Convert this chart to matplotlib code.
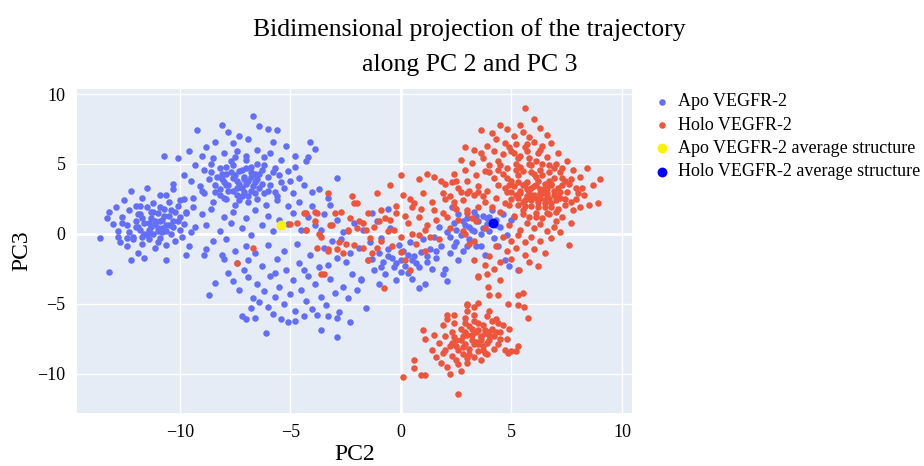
import matplotlib
matplotlib.use('Agg')
import matplotlib.pyplot as plt

plt.rcParams['font.family'] = ['Liberation Serif', 'DejaVu Serif']
plt.rcParams['axes.unicode_minus'] = True

# Apo VEGFR-2 points (PC2, PC3)
apo_pc2 = [
    # left cluster
    -13.6, -13.2, -13.3, -13.2, -13.0, -12.9, -12.8, -12.7, -12.6, -12.5, -12.4, -12.4, -12.3, -12.2, -12.1,
    -12.0, -12.0, -11.9, -11.8, -11.8, -11.7, -11.7, -11.6, -11.5, -11.5, -11.4, -11.4, -11.3, -11.3, -11.2,
    -11.1, -11.1, -11.0, -11.0, -10.9, -10.9, -10.8, -10.8, -10.7, -10.6, -10.6, -10.5, -10.5, -10.4, -10.3,
    -10.3, -10.2, -10.2, -10.1, -10.0, -10.0, -9.9, -9.8, -9.8, -9.7, -9.6, -9.5, -9.4, -9.3, -12.2,
    -11.6, -10.6, -9.7, -8.9, -8.1, -12.8, -11.9, -10.9, -11.2, -12.3,
    # upper cluster
    -6.7, -8.1, -9.2, -6.4, -6.0, -5.6, -7.8, -7.3, -6.9, -7.6, -8.4, -8.8, -5.8, -5.2, -4.1,
    -3.9, -9.6, -10.7, -10.1, -9.0, -8.5, -8.0, -7.4, -7.0, -6.5, -6.2, -5.9, -5.4, -4.8, -4.3,
    -9.3, -8.9, -8.6, -8.2, -7.9, -7.6, -7.3, -7.1, -6.8, -6.6, -6.3, -6.0, -5.7, -5.5, -5.1,
    -4.6, -9.8, -10.3, -9.5, -9.1, -8.7, -8.4, -8.1, -7.8, -7.6, -7.4, -7.2, -7.0, -6.8, -6.6,
    -6.4, -6.2, -5.9, -5.7, -5.3, -4.9, -4.4, -3.7, -2.9, -10.6, -10.0, -9.4, -8.9, -8.5, -8.2,
    -7.9, -7.5, -7.2, -6.9, -6.5, -6.1, -5.6, -5.1, -4.6, -4.0, -3.3, -9.7, -9.0, -8.6, -8.0,
    -7.6, -7.0, -6.6, -6.0, -5.5, -4.9, -4.2, -3.5, -8.8, -8.2, -7.7, -7.2, -6.8, -6.3, -5.8,
    -5.1, -4.5, -3.9, -7.9, -8.5, -7.0, -4.2, -4.8, -5.0, -4.0, -3.2,
    # lower cluster
    -6.1, -5.1, -4.8, -7.2, -7.0, -6.6, -3.6, -2.9, -2.3, -2.9, -8.7, -8.4, -7.4, -7.8, -7.6,
    -7.3, -7.1, -6.9, -6.7, -6.5, -6.3, -6.2, -6.0, -5.9, -5.7, -5.6, -5.5, -5.3, -5.2, -5.0,
    -4.9, -4.8, -4.6, -4.5, -4.3, -4.2, -4.0, -3.9, -3.7, -3.6, -3.4, -3.2, -3.0, -2.8, -2.6,
    -2.4, -2.2, -6.8, -6.4, -5.8, -5.4, -4.4, -3.8, -3.3, -6.6, -6.0, -5.3, -4.7, -4.1, -3.5,
    -2.9, -2.7, -6.9, -5.7, -4.4, -3.3, -2.5, -8.0, -8.8, -7.5, -2.0, -1.8, -1.6,
    # middle band
    -1.9, -1.7, -1.5, -1.4, -1.2, -1.1, -1.0, -0.9, -0.8, -0.7, -0.6, -0.5, -0.4, -0.3, -0.2,
    -0.1, 0.0, 0.1, 0.2, 0.3, 0.4, 0.5, 0.6, 0.7, 0.9, 1.0, 1.1, 1.2, 1.3, 1.5,
    1.6, 1.7, 1.8, 2.0, 2.1, 2.1, 2.2, 2.3, 2.4, 2.5, 2.6, 2.7, 2.8, 2.9, 3.0,
    3.1, 3.2, 3.3, 3.4, 3.5, 3.6, 3.7, 3.8, 3.9, 4.0, 4.1, 4.2, 4.3, 4.4, 4.5,
    4.6, 4.8, 5.0, 5.1, 5.3, 4.7, 4.9, 2.6, 1.9, -2.3, -2.1, -2.6, -1.3, -0.6, -3.1,
    -3.6, -2.9, -1.8, -1.0, 0.8, 3.6, 3.3, 4.0, 2.4, 3.0, 1.4,
]
apo_pc3 = [
    -0.3, -2.7, 1.1, 1.6, 0.7, 1.9, 0.2, -0.6, 1.2, 2.4, -0.9, 0.6, 1.7, 3.1, -0.2,
    0.9, 2.0, -1.4, 0.3, 1.4, 2.6, -0.7, 0.8, 3.3, 1.9, 0.1, -0.4, 1.1, 0.5, 2.2,
    -1.0, 0.7, 1.5, 0.2, 2.8, -0.3, 1.0, 0.4, 1.8, -0.8, 0.6, 2.3, 1.3, 0.0, 3.2,
    0.9, -0.5, 1.6, 2.0, 0.3, 1.2, -0.2, 2.5, 0.7, 1.5, -0.9, 0.1, 1.9, 0.5, -1.9,
    -1.7, -1.9, -1.5, -1.5, -1.5, -0.2, 0.5, 0.9, 1.6, 0.1,
    8.4, 7.8, 7.4, 7.7, 7.5, 7.4, 7.3, 7.0, 6.8, 6.5, 6.6, 6.2, 6.6, 6.3, 6.6,
    6.1, 5.9, 5.6, 5.4, 5.6, 5.4, 5.8, 5.9, 5.6, 6.0, 5.5, 5.8, 5.3, 5.6, 5.2,
    4.9, 4.6, 5.0, 4.7, 4.3, 4.9, 4.5, 4.1, 4.8, 4.3, 4.6, 4.1, 4.7, 4.2, 4.5,
    4.0, 4.2, 3.6, 3.8, 3.4, 3.9, 3.5, 3.9, 3.5, 3.1, 3.8, 3.3, 3.6, 3.1, 3.7,
    3.3, 2.9, 3.5, 3.0, 3.3, 2.9, 3.5, 3.2, 4.0, 2.8, 2.4, 2.6, 2.9, 2.3, 2.8,
    2.5, 2.1, 2.7, 2.3, 2.5, 2.1, 2.4, 2.0, 2.3, 2.0, 2.6, 1.6, 1.4, 1.8, 1.2,
    1.6, 1.1, 1.7, 1.3, 1.0, 1.5, 1.2, 1.4, 0.6, 0.2, 0.8, 0.4, -0.1, 0.6, 0.2,
    0.7, 0.3, 0.6, -0.4, -0.5, -0.9, 5.5, 4.8, 3.8, 3.0, 2.1,
    -7.1, -6.3, -6.2, -5.9, -6.1, -6.0, -6.9, -7.4, -6.3, -6.0, -4.4, -3.5, -2.1, -2.8, -3.4,
    -4.0, -2.6, -3.1, -4.6, -3.6, -2.3, -4.1, -5.2, -3.0, -4.5, -1.8, -3.8, -5.0, -2.6, -4.3,
    -3.3, -5.5, -2.1, -4.0, -4.8, -3.0, -5.4, -3.6, -2.4, -4.5, -5.1, -3.2, -4.2, -5.6, -3.8,
    -4.6, -2.9, -5.3, -4.9, -5.7, -6.1, -5.9, -5.8, -5.9, -1.4, -0.8, -1.2, -0.7, -1.5, -1.0,
    -1.7, -0.4, -1.9, -2.8, -2.6, -2.2, -2.0, -1.8, -1.1, -1.2, -4.0, -3.3, -5.3,
    -1.0, 0.3, -1.9, -0.6, -2.6, 0.9, -1.4, -0.3, -2.0, -2.9, -1.1, 0.4, -1.7, -2.4, -3.3,
    -0.8, -1.9, -1.2, -2.3, -2.8, -0.6, -3.2, -1.6, -2.1, -1.3, -0.4, -3.6, -2.0, -1.1, -0.2,
    -1.7, 0.5, -0.9, -2.5, -3.4, 0.1, -1.4, 1.9, 0.8, -0.6, 1.4, -0.1, -1.2, 0.6, 1.1,
    -0.4, 0.3, 1.6, -0.9, 0.9, 0.0, 1.3, -1.5, 0.7, 0.2, 1.7, -0.3, 1.0, -0.9, 0.5,
    1.4, -0.1, 1.0, 1.2, -2.6, -1.9, -2.3, -1.9, -2.9, -1.4, 0.8, 0.1, 1.5, 1.8, -0.5,
    0.3, 1.0, -3.2, -3.6, -3.9, -0.9, 0.2, 1.2, -0.9, -0.9, -2.5,
]

# denser cores of the Apo clusters
apo_core_pc2 = [
    -8.3, -8.0, -7.7, -7.4, -7.1, -6.8, -6.5, -8.2, -7.9, -7.6, -7.3, -7.0, -6.7, -6.4,
    -8.4, -8.1, -7.8, -7.5, -7.2, -6.9, -6.6, -6.3, -8.0, -7.7, -7.4, -7.1, -6.8, -6.5,
    -7.9, -7.3, -6.9, -6.2, -5.8, -5.4, -6.0, -5.6, -8.6, -9.0, -7.0, -7.5,
    -12.0, -11.7, -11.4, -11.1, -10.8, -10.5, -11.9, -11.6, -11.3, -11.0, -10.7, -10.4,
    -12.1, -11.8, -11.5, -11.2, -10.9, -10.6, -11.4, -11.0, -10.1, -12.6, -12.4, -10.3, -11.7,
    -0.6, -0.2, 0.3, 0.8, 1.2, -1.3, -0.9, 0.0, 0.5, 2.8, 3.1, 3.4, 3.7, 3.9, 4.3, 2.2, 2.5, 1.6,
]
apo_core_pc3 = [
    4.1, 3.7, 4.4, 3.3, 3.9, 4.4, 3.9, 3.2, 4.8, 4.0, 3.6, 4.7, 3.4, 4.3,
    3.0, 4.3, 3.1, 4.2, 4.6, 3.8, 2.9, 3.6, 2.6, 5.2, 2.8, 3.0, 4.1, 5.0,
    3.5, 2.4, 2.7, 4.9, 4.4, 3.7, 3.1, 2.7, 4.4, 3.1, 5.3, 5.5,
    0.5, 1.1, 0.3, 0.9, 0.1, 0.6, 1.4, 0.0, 1.6, 0.4, 1.3, 1.7,
    -0.4, 2.0, -0.1, 0.0, 1.9, 0.2, 0.8, -0.6, 0.9, 0.8, -0.3, 0.5, -0.2,
    -1.6, -2.1, -1.5, -2.4, -1.6, -1.8, -2.4, -2.7, -1.9, 0.9, 0.5, 1.3, 0.4, 1.1, 0.6, -0.2, 0.3, -1.2,
]

# Holo VEGFR-2 points (PC2, PC3)
holo_pc2 = [
    # main cluster
    5.6, 6.0, 5.4, 4.5, 3.6, 4.1, 6.6, 6.8, 7.1, 7.5, 8.4, 9.0, 8.5, 8.9, 7.6,
    6.2, 5.35, 3.5, 4.8, 5.1, 5.5, 5.8, 6.3, 4.3, 4.7, 5.2, 5.6, 6.0, 6.4, 3.9,
    3.3, 4.2, 4.6, 5.0, 5.4, 5.8, 6.2, 6.6, 7.0, 2.7, 3.2, 3.7, 4.0, 4.4, 4.8,
    5.2, 5.5, 5.9, 6.3, 6.7, 7.2, 7.8, 8.1, 2.4, 2.9, 3.4, 3.8, 4.2, 4.6, 5.0,
    5.3, 5.7, 6.1, 6.5, 6.9, 7.3, 7.7, 8.2, 8.7, 2.0, 2.6, 3.0, 3.5, 3.9, 4.4,
    4.8, 5.1, 5.4, 5.7, 6.0, 6.3, 6.6, 6.9, 7.2, 7.5, 7.9, 8.3, 2.2, 2.8, 3.3,
    3.8, 4.3, 4.7, 5.0, 5.3, 5.6, 5.9, 6.2, 6.5, 6.8, 7.1, 7.4, 7.8, 8.1, 2.5,
    3.0, 3.5, 4.5, 5.1, 5.5, 5.8, 6.1, 6.4, 6.7, 7.0, 7.3, 7.7, 4.9, 5.4, 5.7,
    6.0, 6.3, 6.6, 6.9, 7.2, 4.6, 5.0, 5.3, 5.6, 5.9, 6.3, 6.8, 4.3, 4.8, 5.2,
    5.6, 6.0, 6.5, 4.0, 4.5, 5.0, 4.2, 3.8, 5.8, 6.6, 6.1, 5.5, 6.4, 5.9, 6.8,
    7.0, 6.3, 5.8, 6.5, 7.4, 6.1, 5.3, 4.9, 5.7, 3.6, 2.9, 7.3, 7.9, 8.0, 6.7,
    5.2, 4.9, 4.4, 3.1, 3.7, 4.1, 3.4, 3.8, 2.9, 3.3,
    # lower cluster
    2.56, 0.1, 0.9, 1.1, 0.6, 0.6, 1.0, 1.1, 2.1, 2.4, 3.0, 3.5, 3.3, 4.0, 4.4,
    4.85, 5.3, 5.5, 5.55, 5.75, 5.3, 5.3, 4.85, 4.0, 4.4, 3.95, 3.5, 3.9, 4.5, -0.75,
    1.4, 1.6, 1.7, 1.8, 1.9, 2.0, 2.1, 2.2, 2.3, 2.3, 2.4, 2.5, 2.5, 2.6, 2.7,
    2.7, 2.8, 2.8, 2.9, 2.9, 3.0, 3.1, 3.1, 3.2, 3.3, 3.3, 3.4, 3.5, 3.5, 3.6,
    3.7, 3.7, 3.8, 3.9, 3.9, 4.0, 4.1, 4.2, 4.2, 4.3, 4.4, 4.5, 4.6, 4.7, 4.8,
    4.9, 5.0, 5.2, 1.5, 1.9, 2.1, 3.0, 3.3, 2.6, 3.6, 2.2, 2.0, 3.2, 2.9, 3.5,
    4.0, 2.4, 3.8, 4.5,
    # middle band
    0.0, -0.5, -1.1, 0.1, 0.4, 1.2, 1.5, 0.8, 1.8, 2.3, -2.0, -3.0, -4.3, -3.8, -3.1,
    -4.3, -3.8, -3.3, -3.5, -2.4, -1.9, -1.7, -1.5, -0.9, -0.2, -0.2, -0.6, -0.3, 0.0, -1.7,
    -1.5, -1.3, -1.1, -0.9, 0.2, 0.4, 0.7, 0.8, 1.2, 1.6, 1.9, 0.8, 1.0, 2.5, 2.7,
    3.0, 3.0, 3.1, 3.3, 3.0, -2.7, -2.3, -2.8, -2.1, -1.2, -0.7, 0.3, 0.5, 1.4, 2.0,
    1.7, 2.2, 2.6, 0.0, -0.4, 1.1, -3.6, -2.6, -3.3, -3.9, -2.2, -1.6, 0.5, 1.3, 2.4,
    1.9, 3.5, 2.8,
    # scattered on the left
    -4.4, -3.9, -5.0, -4.7, -7.4, -6.7, -3.6, -4.3, -2.1, -3.2, -3.3, -2.9, -2.4, -2.5, -3.7,
]
holo_pc3 = [
    9.0, 8.2, 7.8, 7.8, 7.4, 7.2, 7.1, 6.5, 5.8, 5.2, 4.7, 3.9, 2.1, 2.2, -0.8,
    -2.3, -2.6, -3.0, 7.5, 7.0, 7.3, 6.9, 7.6, 6.8, 6.5, 6.4, 6.2, 6.6, 6.3, 6.3,
    6.0, 5.9, 5.7, 5.9, 5.6, 5.4, 5.8, 5.5, 5.0, 5.3, 5.1, 5.4, 4.9, 5.2, 4.7,
    5.0, 4.5, 4.9, 4.6, 4.9, 4.4, 4.6, 4.1, 4.3, 4.6, 4.2, 4.5, 4.0, 4.3, 3.8,
    4.2, 3.7, 4.1, 3.6, 4.0, 3.5, 3.9, 3.3, 3.5, 3.6, 3.3, 3.8, 3.4, 3.1, 3.5,
    3.0, 3.4, 2.9, 3.2, 2.8, 3.2, 2.7, 3.1, 2.6, 3.0, 2.5, 2.8, 2.7, 2.4, 2.8,
    2.3, 2.6, 2.2, 2.5, 2.1, 2.4, 2.0, 2.3, 1.9, 2.2, 1.8, 2.1, 1.7, 1.9, 1.8,
    1.5, 1.9, 1.6, 1.3, 1.7, 1.2, 1.5, 1.1, 1.4, 0.9, 1.2, 0.8, 0.6, 0.3, 0.8,
    0.4, 0.7, 0.2, 0.5, 0.1, -0.2, -0.5, -0.1, -0.6, -0.2, -0.5, -0.3, -0.9, -1.2, -1.0,
    -1.5, -1.1, -1.4, -1.6, -2.0, -1.8, -2.5, -2.2, -2.0, 2.9, 3.5, 3.5, 4.2, 4.4, 3.5,
    2.4, 2.6, 2.6, 2.4, 3.8, 5.2, 5.4, 6.2, 5.9, 5.8, 6.2, 4.7, 3.3, 2.9, 3.8,
    2.8, 3.5, 4.6, 3.1, 2.7, 1.9, 0.9, 0.4, 0.0, -0.5,
    -11.45, -10.2, -10.1, -10.1, -9.05, -9.6, -6.9, -7.5, -5.8, -5.8, -5.0, -4.95, -5.2, -5.5, -6.4,
    -5.0, -4.4, -4.2, -5.2, -6.0, -5.1, -8.05, -8.5, -4.35, -4.35, -3.8, -3.1, -2.9, -3.3, -3.9,
    -8.3, -8.8, -7.8, -9.2, -8.5, -7.3, -9.5, -8.0, -7.0, -8.7, -6.4, -7.6, -9.0, -8.3, -6.8,
    -9.8, -7.3, -8.6, -6.0, -7.9, -9.2, -6.6, -8.2, -7.2, -8.8, -6.2, -7.7, -8.4, -6.9, -7.4,
    -8.0, -6.5, -7.1, -8.6, -5.9, -7.6, -6.8, -8.2, -7.3, -6.1, -7.9, -7.0, -6.5, -8.3, -7.5,
    -6.8, -8.4, -8.4, -7.2, -6.5, -6.1, -5.5, -5.8, -9.3, -9.0, -10.0, -8.3, -7.6, -7.0, -7.9,
    -7.0, -7.4, -8.5, -7.5,
    4.2, 3.5, 2.9, 2.8, 2.5, 4.3, 4.1, 3.9, 3.8, 3.7, 2.2, 1.5, 1.5, 1.5, 0.6,
    0.3, -1.0, -1.1, -2.9, 0.2, 0.9, 0.8, 1.5, 1.7, 2.0, 1.5, 0.2, 0.3, -0.2, -1.0,
    -1.9, -1.4, -1.0, -0.5, -1.9, -2.6, -0.7, -0.1, 0.6, 1.0, 1.5, 1.2, 2.9, 3.8, 3.0,
    1.7, 2.9, -0.7, -1.9, -5.1, 1.6, 1.1, -0.6, -0.8, 0.5, 1.1, 0.8, 1.9, 2.3, 2.5,
    -0.4, 0.4, 1.0, -1.3, -0.9, -1.2, -0.2, -1.4, 2.9, 0.9, 2.7, 0.3, 0.0, -0.2, 1.9,
    2.9, 3.0, 0.2,
    1.5, 1.6, 0.7, 0.8, -2.1, -1.0, -2.9, 0.3, 2.2, 0.6, -1.2, -1.1, 0.3, -0.7, 0.0,
]

# denser cores of the Holo clusters
holo_core_pc2 = [
    5.6, 5.9, 6.2, 6.5, 6.8, 7.1, 5.4, 5.7, 6.0, 6.3, 6.6, 6.9, 7.2, 5.5, 5.8, 6.1, 6.4, 6.7, 7.0,
    5.3, 5.6, 5.9, 6.2, 6.5, 6.8, 5.0, 5.3, 6.0, 6.7, 7.3, 4.7, 5.2, 5.8, 6.4, 7.6,
    4.9, 5.5, 6.1, 7.0, 7.7, 5.1, 5.7, 6.3, 6.9, 4.5, 4.0, 4.8, 5.4, 6.6, 7.4,
    2.7, 3.0, 3.3, 3.6, 3.9, 2.8, 3.1, 3.4, 3.7, 4.0, 2.5, 2.9, 3.2, 3.5, 3.8, 4.1, 2.3, 3.0, 3.6, 4.3,
    -1.0, -0.5, 0.2, 0.9, 1.5, 2.1, -2.0, -1.4, 0.6, 1.1, 2.4, 3.2,
]
holo_core_pc3 = [
    3.6, 3.3, 3.8, 3.3, 3.6, 3.3, 3.1, 2.7, 3.4, 2.9, 3.2, 2.8, 3.0, 2.3, 2.9, 2.6, 2.9, 2.5, 2.7,
    2.6, 2.0, 2.4, 1.9, 2.2, 1.9, 3.0, 3.7, 4.3, 4.4, 4.0, 3.3, 4.6, 5.0, 5.0, 3.6,
    2.1, 1.4, 1.2, 1.6, 2.3, 5.8, 6.4, 6.0, 4.7, 4.9, 4.4, 4.0, 4.8, 1.5, 2.5,
    -7.6, -7.2, -7.9, -7.3, -7.8, -8.1, -8.6, -7.0, -8.3, -7.2, -8.0, -6.4, -6.8, -6.4, -6.9, -6.2, -7.8, -8.9, -7.6, -7.0,
    0.9, 1.0, 1.3, 1.8, 1.7, 1.2, 0.4, -0.3, 2.2, 0.3, 2.3, 1.1,
]

# average structures
apo_avg = (-5.4, 0.6)
holo_avg = (4.15, 0.75)

fig = plt.figure(figsize=(9.24, 4.66), dpi=100)
ax = fig.add_axes([0.083, 0.114, 0.601, 0.695])
ax.set_facecolor('#E5ECF6')

ax.scatter(apo_pc2 + apo_core_pc2, apo_pc3 + apo_core_pc3, s=22, color='#636EFA',
           linewidths=0, label='Apo VEGFR-2', zorder=3)
ax.scatter(holo_pc2 + holo_core_pc2, holo_pc3 + holo_core_pc3, s=22, color='#EF553B',
           linewidths=0, label='Holo VEGFR-2', zorder=3)
ax.scatter([apo_avg[0]], [apo_avg[1]], s=50, color='#FFF200', linewidths=0,
           label='Apo VEGFR-2 average structure', zorder=4)
ax.scatter([holo_avg[0]], [holo_avg[1]], s=50, color='#0000FF', linewidths=0,
           label='Holo VEGFR-2 average structure', zorder=4)

ax.set_xlim(-14.66, 10.45)
ax.set_ylim(-12.8, 10.36)
ax.set_xticks([-10, -5, 0, 5, 10])
ax.set_yticks([-10, -5, 0, 5, 10])
ax.grid(True, color='white', linewidth=1)
ax.set_axisbelow(True)
ax.axhline(0, color='white', linewidth=2, zorder=1)
ax.axvline(0, color='white', linewidth=2, zorder=1)
for sp in ax.spines.values():
    sp.set_visible(False)
ax.tick_params(length=0, labelsize=13, pad=8)

ax.set_xlabel('PC2', fontsize=17, labelpad=2)
ax.set_ylabel('PC3', fontsize=17, labelpad=4)

fig.text(0.508, 0.962, 'Bidimensional projection of the trajectory\nalong PC 2 and PC 3',
         ha='center', va='top', fontsize=18.5, linespacing=1.8)

fig.legend(loc='upper left', bbox_to_anchor=(0.697, 0.815), frameon=False, fontsize=13,
           handletextpad=0.3, labelspacing=0.35, borderaxespad=0, handlelength=1.2)

plt.savefig('out.png', dpi=100)
